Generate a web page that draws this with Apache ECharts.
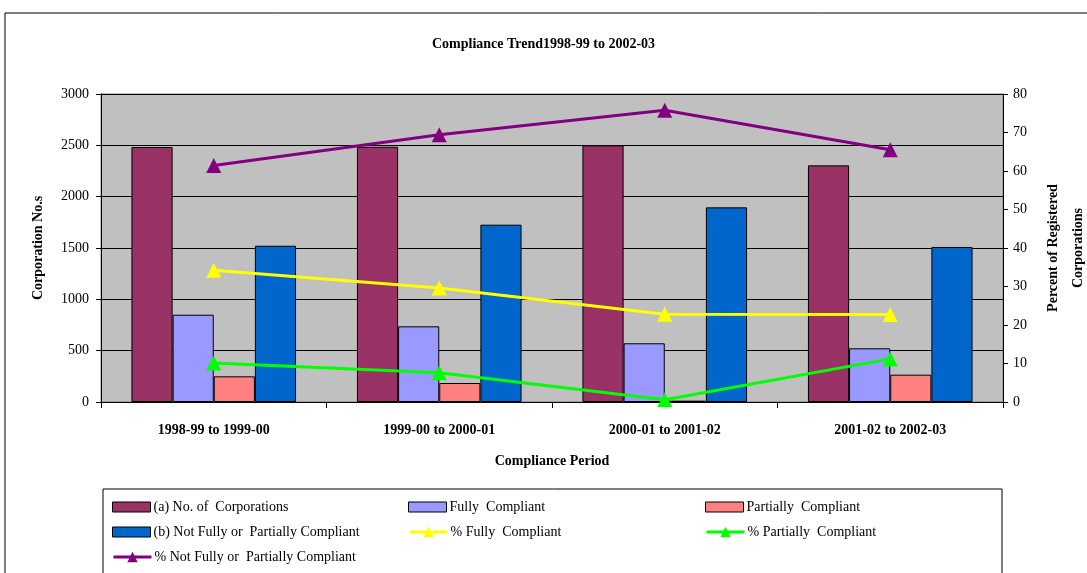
<!DOCTYPE html>
<html><head><meta charset="utf-8">
<script src="https://cdn.jsdelivr.net/npm/echarts@6/dist/echarts.min.js"></script>
<style>html,body{margin:0;padding:0;background:#fff}#c{width:1087px;height:573px}</style>
</head><body><div id="c"></div>
<script>
const categories = ['1998-99 to 1999-00','1999-00 to 2000-01','2000-01 to 2001-02','2001-02 to 2002-03'];
const noCorporations = [2484, 2486, 2500, 2305];
const fullyCompliant = [850, 737, 572, 523];
const partiallyCompliant = [250, 185, 13, 266];
const notCompliant = [1522, 1727, 1896, 1510];
const pctFully = [34.2, 29.6, 22.8, 22.7];
const pctPartially = [10.1, 7.6, 0.6, 11.2];
const pctNot = [61.4, 69.4, 75.8, 65.5];
const leftTicks = {min: 0, max: 3000, interval: 500};
const rightTicks = {min: 0, max: 80, interval: 10};

const FONT = '"Liberation Serif", "Times New Roman", serif';
const chart = echarts.init(document.getElementById('c'));
const barBase = {type: 'bar', barGap: '0%', barCategoryGap: '27%', yAxisIndex: 0};
const lineBase = {type: 'line', yAxisIndex: 1, symbol: 'triangle', symbolSize: 15, z: 5};
const legendItem = (name, left, top, isBar) => ({
  data: [isBar ? {name, icon: 'rect'} : {name}], left, top, padding: 0,
  itemWidth: 38, itemHeight: isBar ? 10 : 13, itemGap: 0,
  itemStyle: isBar ? {borderColor: '#000', borderWidth: 1} : {},
  lineStyle: isBar ? {} : {width: 3},
  textStyle: {fontFamily: FONT, fontSize: 14, color: '#000', padding: [0,0,0,-2]},
  selectedMode: false
});
chart.setOption({
  backgroundColor: '#fff',
  animation: false,
  title: {
    text: 'Compliance Trend1998-99 to 2002-03', left: 'center', top: 32,
    textStyle: {fontFamily: FONT, fontSize: 14, fontWeight: 'bold', color: '#000'}
  },
  graphic: [
    {type: 'polyline', shape: {points: [[5, 573], [5, 13], [1087, 13]]}, style: {stroke: '#000', fill: null, lineWidth: 1}, silent: true},
    {type: 'polyline', shape: {points: [[103, 573], [103, 489], [1002, 489], [1002, 573]]}, style: {stroke: '#000', fill: null, lineWidth: 1}, silent: true}
  ],
  legend: [
    legendItem('(a) No. of  Corporations', 112, 500, true),
    legendItem('Fully  Compliant', 408, 500, true),
    legendItem('Partially  Compliant', 705, 500, true),
    legendItem('(b) Not Fully or  Partially Compliant', 112, 525, true),
    legendItem('% Fully  Compliant', 408, 525, false),
    legendItem('% Partially  Compliant', 705, 525, false),
    legendItem('% Not Fully or  Partially Compliant', 112, 550, false)
  ],
  grid: {left: 101, right: 84, top: 94, bottom: 171, outerBoundsMode: 'none', containLabel: false,
    show: true, backgroundColor: '#C0C0C0', borderColor: '#808080', borderWidth: 1},
  xAxis: {
    type: 'category', data: categories,
    name: 'Compliance Period', nameLocation: 'middle', nameGap: 52,
    nameTextStyle: {fontFamily: FONT, fontSize: 14, fontWeight: 'bold', color: '#000'},
    axisLine: {lineStyle: {color: '#000', width: 1}},
    axisTick: {show: true, length: 6, lineStyle: {color: '#000'}},
    axisLabel: {fontFamily: FONT, fontSize: 14, fontWeight: 'bold', color: '#000', margin: 21},
    splitLine: {show: false}
  },
  yAxis: [
    {
      type: 'value', min: leftTicks.min, max: leftTicks.max, interval: leftTicks.interval,
      name: 'Corporation No.s', nameLocation: 'middle', nameGap: 56, nameRotate: 90,
      nameTextStyle: {fontFamily: FONT, fontSize: 14, fontWeight: 'bold', color: '#000'},
      axisLine: {show: true, lineStyle: {color: '#000'}},
      axisTick: {show: true, length: 5, lineStyle: {color: '#000'}},
      axisLabel: {fontFamily: FONT, fontSize: 14, color: '#000', margin: 12, formatter: v => String(v)},
      splitLine: {show: true, lineStyle: {color: '#000', width: 1}}
    },
    {
      type: 'value', min: rightTicks.min, max: rightTicks.max, interval: rightTicks.interval, position: 'right',
      name: 'Percent of Registered\nCorporations', nameLocation: 'middle', nameGap: 38, nameRotate: 90,
      nameTextStyle: {fontFamily: FONT, fontSize: 14, fontWeight: 'bold', color: '#000', lineHeight: 25},
      axisLine: {show: true, lineStyle: {color: '#000'}},
      axisTick: {show: true, length: 5, lineStyle: {color: '#000'}},
      axisLabel: {fontFamily: FONT, fontSize: 14, color: '#000', margin: 10, formatter: v => String(v)},
      splitLine: {show: false}
    }
  ],
  series: [
    {...barBase, name: '(a) No. of  Corporations', data: noCorporations, itemStyle: {color: '#993366', borderColor: '#000', borderWidth: 1}},
    {...barBase, name: 'Fully  Compliant', data: fullyCompliant, itemStyle: {color: '#9999FF', borderColor: '#000', borderWidth: 1}},
    {...barBase, name: 'Partially  Compliant', data: partiallyCompliant, itemStyle: {color: '#FF8080', borderColor: '#000', borderWidth: 1}},
    {...barBase, name: '(b) Not Fully or  Partially Compliant', data: notCompliant, itemStyle: {color: '#0066CC', borderColor: '#000', borderWidth: 1}},
    {...lineBase, name: '% Fully  Compliant', data: pctFully, lineStyle: {color: '#FFFF00', width: 3}, itemStyle: {color: '#FFFF00'}},
    {...lineBase, name: '% Partially  Compliant', data: pctPartially, lineStyle: {color: '#00FF00', width: 3}, itemStyle: {color: '#00FF00'}},
    {...lineBase, name: '% Not Fully or  Partially Compliant', data: pctNot, lineStyle: {color: '#800080', width: 3}, itemStyle: {color: '#800080'}}
  ]
});
</script></body></html>
